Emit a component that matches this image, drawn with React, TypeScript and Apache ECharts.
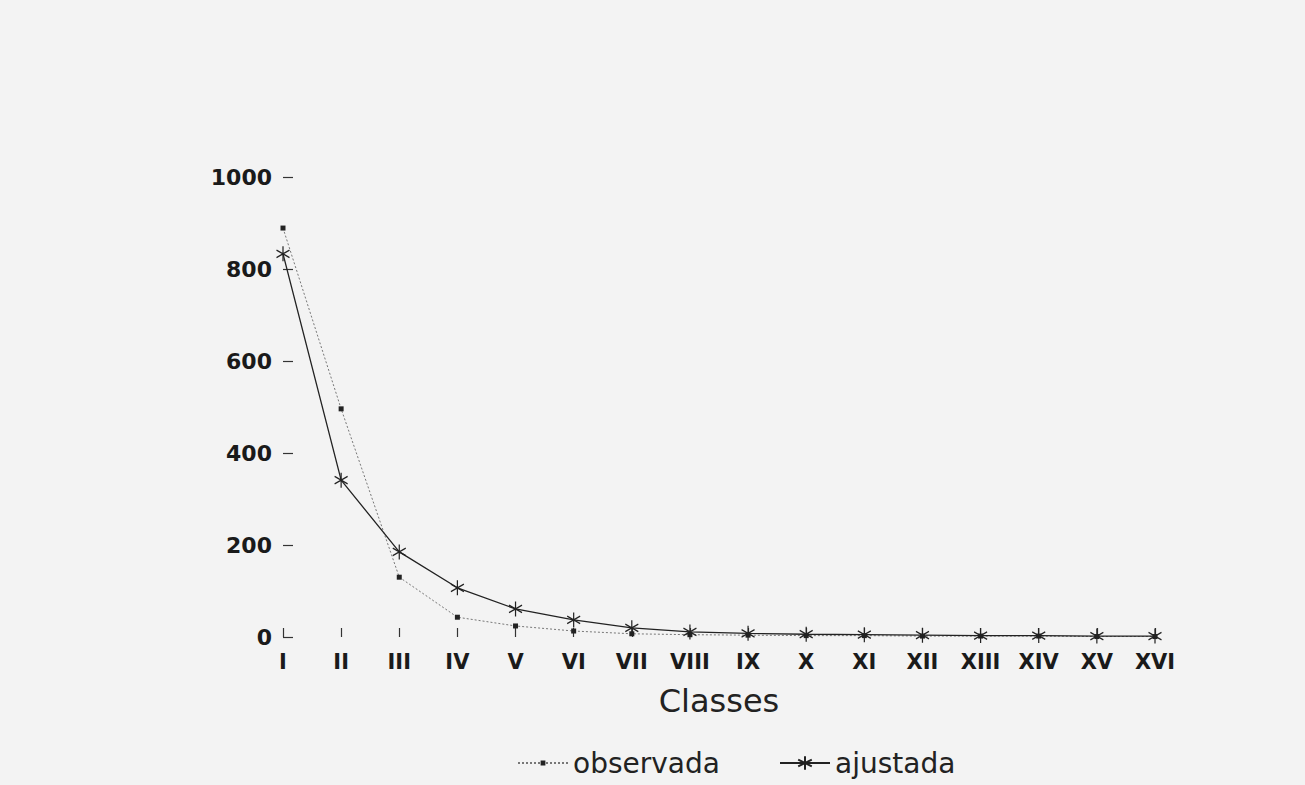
import React, { useEffect, useRef } from "react";
import * as echarts from "echarts";

const classes = ["I", "II", "III", "IV", "V", "VI", "VII", "VIII", "IX", "X", "XI", "XII", "XIII", "XIV", "XV", "XVI"];
const observada = [889, 496, 130, 43, 24, 13, 7, 5, 4, 3, 3, 2, 2, 2, 1, 1];
const ajustada = [833, 341, 185, 107, 61, 37, 20, 11, 8, 6, 5, 4, 3, 3, 2, 2];
const yTicks = { min: 0, max: 1000, interval: 200 };

const STAR = "path://M0,-1L0,1M-0.866,-0.5L0.866,0.5M-0.866,0.5L0.866,-0.5";
const FONT = "DejaVu Sans";

export default function App() {
  const ref = useRef<HTMLDivElement>(null);
  useEffect(() => {
    if (!ref.current) return;
    const chart = echarts.init(ref.current, undefined, { renderer: "svg" });
    const legendText = { fontFamily: FONT, fontSize: 28, color: "#222", lineHeight: 28 };
    chart.setOption({
      animation: false,
      backgroundColor: "#f3f3f3",
      grid: { left: 283, right: 150, top: 177, bottom: 148, containLabel: false },
      legend: [
        {
          left: 512,
          top: 744,
          itemWidth: 50,
          itemHeight: 6,
          textStyle: legendText,
          data: ["observada"],
        },
        {
          left: 774,
          top: 744,
          itemWidth: 50,
          itemHeight: 17,
          textStyle: legendText,
          data: ["ajustada"],
        },
      ],
      xAxis: {
        type: "category",
        data: classes,
        boundaryGap: false,
        axisLine: { show: false },
        axisTick: { show: true, inside: true, length: 9, lineStyle: { color: "#333", width: 1.2 } },
        axisLabel: { margin: 14, fontFamily: FONT, fontSize: 21, fontWeight: "bold", color: "#1a1a1a" },
        splitLine: { show: false },
        name: "Classes",
        nameLocation: "middle",
        nameGap: 48,
        nameTextStyle: { fontFamily: FONT, fontSize: 32, color: "#222", verticalAlign: "top" },
      },
      yAxis: {
        type: "value",
        min: yTicks.min,
        max: yTicks.max,
        interval: yTicks.interval,
        axisLine: { show: false },
        axisTick: { show: true, inside: true, length: 10, lineStyle: { color: "#333", width: 1.2 } },
        axisLabel: {
          margin: 11,
          fontFamily: FONT,
          fontSize: 22,
          fontWeight: "bold",
          color: "#1a1a1a",
          formatter: (v: number) => String(v),
        },
        splitLine: { show: false },
      },
      series: [
        {
          name: "observada",
          type: "line",
          data: observada,
          symbol: "rect",
          symbolSize: 5,
          itemStyle: { color: "#222" },
          lineStyle: { color: "#777", width: 1, type: [2, 2] },
          z: 2,
        },
        {
          name: "ajustada",
          type: "line",
          data: ajustada,
          symbol: STAR,
          symbolSize: [13, 15],
          itemStyle: { color: "#222", borderColor: "#222", borderWidth: 1.3 },
          lineStyle: { color: "#222", width: 1.3 },
          z: 3,
        },
      ],
    });
    return () => chart.dispose();
  }, []);
  return (
    <div
      ref={ref}
      style={{ position: "fixed", left: 0, top: 0, width: 1305, height: 785 }}
    />
  );
}
